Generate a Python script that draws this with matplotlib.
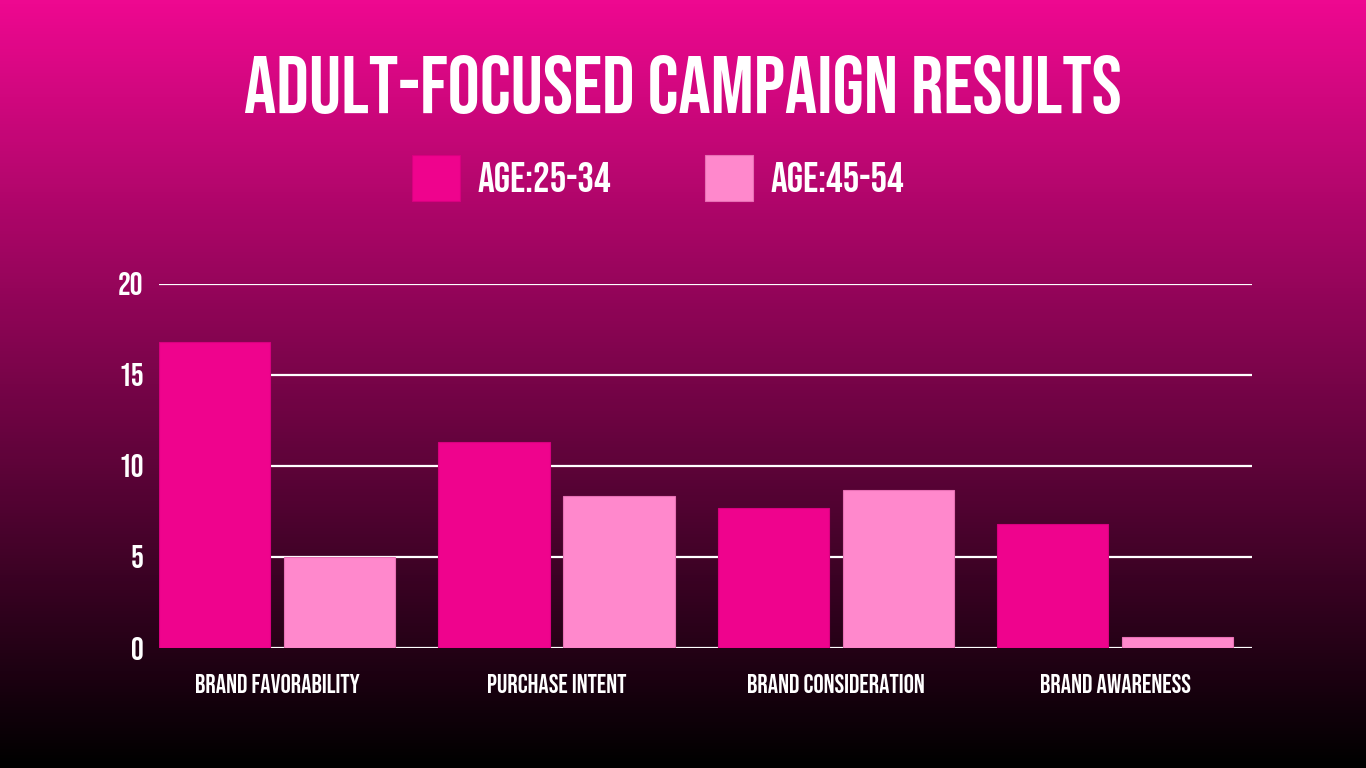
import numpy as np
import matplotlib
matplotlib.use("Agg")
import matplotlib.pyplot as plt
from matplotlib.colors import LinearSegmentedColormap

categories = ["BRAND FAVORABILITY", "PURCHASE INTENT", "BRAND CONSIDERATION", "BRAND AWARENESS"]
age_25_34 = [16.8, 11.3, 7.7, 6.8]
age_45_54 = [5.0, 8.35, 8.7, 0.6]
series_names = ["AGE:25-34", "AGE:45-54"]
y_ticks = [0, 5, 10, 15, 20]

plt.rcParams["font.family"] = ["Bebas Neue", "Oswald", "DejaVu Sans"]

fig = plt.figure(figsize=(13.66, 7.68), dpi=100)

# gradient background
bg = fig.add_axes([0, 0, 1, 1], zorder=-10)
grad = np.linspace(0, 1, 256).reshape(-1, 1)
cmap = LinearSegmentedColormap.from_list("bg", ["#ee0890", "#000000"])
bg.imshow(grad, aspect="auto", cmap=cmap, extent=[0, 1, 0, 1])
bg.axis("off")

ax = fig.add_axes([0.1164, 0.15625, 0.8002, 0.474])
ax.patch.set_alpha(0)

x = np.arange(len(categories))
w = 0.398
off = 0.224
b1 = ax.bar(x - off, age_25_34, w, color="#ef038d", edgecolor="#d8007f", linewidth=0.8,
            label=series_names[0], zorder=3)
b2 = ax.bar(x + off, age_45_54, w, color="#ff88cc", edgecolor="#e870b5", linewidth=0.8,
            label=series_names[1], zorder=3)

ax.set_xlim(-0.423, 3.49)
ax.set_ylim(0, 20)
ax.set_yticks(y_ticks)
for t in y_ticks:
    ax.axhline(t, color="white", lw=1.6, zorder=1)

for s in ax.spines.values():
    s.set_visible(False)
ax.tick_params(axis="y", length=0, pad=11, labelsize=23, labelcolor="white")
ax.tick_params(axis="x", length=0, pad=19, labelsize=18.5, labelcolor="white")
ax.set_xticks(x)
ax.set_xticklabels(categories)

fig.text(0.5, 0.89, "ADULT-FOCUSED CAMPAIGN RESULTS", color="white", fontsize=58,
         ha="center", va="center")

fig.legend(handles=[b1, b2], loc="center", bbox_to_anchor=(0.4817, 0.768), ncol=2,
           frameon=False, fontsize=30, labelcolor="white", handlelength=1.15,
           handleheight=1.3, handletextpad=0.43, columnspacing=2.25)

fig.savefig("out.png", dpi=100)
